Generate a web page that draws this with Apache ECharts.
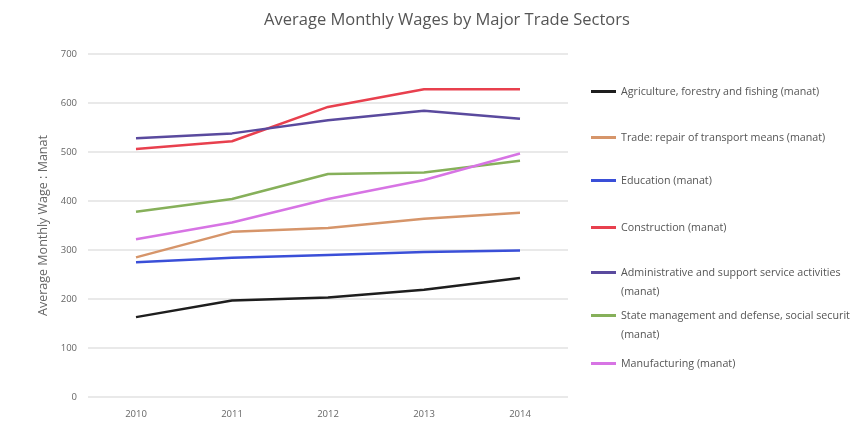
<!DOCTYPE html>
<html>
<head>
<meta charset="utf-8">
<script src="https://cdn.jsdelivr.net/npm/echarts@6/dist/echarts.min.js"></script>
<style>
  html, body { margin: 0; padding: 0; background: #fff; }
  #chart { width: 850px; height: 430px; }
</style>
</head>
<body>
<div id="chart"></div>
<script>
// Years on the category axis
const years = ['2010', '2011', '2012', '2013', '2014'];

// Average monthly wage per sector, manat
const agriculture   = [163, 197, 203, 219, 243];
const trade         = [285, 337, 345, 364, 376];
const education     = [275, 284, 290, 296, 299];
const construction  = [506, 522, 592, 628, 628];
const administrative = [528, 538, 565, 584, 568];
const stateMgmt     = [378, 404, 455, 458, 482];
const manufacturing = [322, 356, 404, 443, 497];

// Y axis ticks
const yTicks = [0, 100, 200, 300, 400, 500, 600, 700];

const seriesDefs = [
  { name: 'Agriculture, forestry and fishing (manat)', data: agriculture, color: '#1e1e1e', top: 82 },
  { name: 'Trade: repair of transport means (manat)', data: trade, color: '#d6956a', top: 128 },
  { name: 'Education (manat)', data: education, color: '#3a4fd8', top: 171 },
  { name: 'Construction (manat)', data: construction, color: '#e8404e', top: 218 },
  { name: 'Administrative and support service activities\n(manat)', data: administrative, color: '#5a4a9e', top: 244 },
  { name: 'State management and defense, social security\n(manat)', data: stateMgmt, color: '#86b05a', top: 287 },
  { name: 'Manufacturing (manat)', data: manufacturing, color: '#d774e4', top: 354 }
];

const chart = echarts.init(document.getElementById('chart'), null, { renderer: 'canvas' });

const fontFamily = '"Open Sans", "Noto Sans", sans-serif';

// one legend block per series so every entry sits on its own row;
// wrapped names get a blank leading line so the swatch lines up with the first line
const legends = seriesDefs.map(s => {
  const twoLines = s.name.indexOf('\n') >= 0;
  return {
    data: [s.name],
    left: 591,
    top: s.top,
    orient: 'vertical',
    icon: 'rect',
    itemWidth: 25,
    itemHeight: 3,
    itemGap: 0,
    selectedMode: false,
    padding: 0,
    formatter: twoLines ? (name => '\n' + name) : undefined,
    textStyle: {
      fontFamily: fontFamily,
      fontSize: 10.7,
      color: '#555',
      lineHeight: 19
    }
  };
});

chart.setOption({
  animation: false,
  backgroundColor: '#fff',
  title: {
    text: 'Average Monthly Wages by Major Trade Sectors',
    left: 442,
    textAlign: 'center',
    top: 7,
    textStyle: { fontFamily: fontFamily, fontSize: 16.5, fontWeight: 'normal', color: '#555' }
  },
  legend: legends,
  grid: { left: 88, right: 282, top: 54, bottom: 33, containLabel: false },
  xAxis: {
    type: 'category',
    data: years,
    boundaryGap: true,
    axisLine: { show: false },
    axisTick: { show: false },
    axisLabel: { fontFamily: fontFamily, fontSize: 9.5, color: '#666', margin: 12 }
  },
  yAxis: {
    type: 'value',
    min: yTicks[0],
    max: yTicks[yTicks.length - 1],
    interval: 100,
    name: 'Average Monthly Wage : Manat',
    nameLocation: 'middle',
    nameGap: 35,
    nameTextStyle: { fontFamily: fontFamily, fontSize: 12.5, color: '#666' },
    axisLine: { show: false },
    axisTick: { show: false },
    axisLabel: { fontFamily: fontFamily, fontSize: 9.5, color: '#666', margin: 11 },
    splitLine: { lineStyle: { color: '#e2e2e2', width: 1.5 } }
  },
  series: seriesDefs.map(s => ({
    name: s.name,
    type: 'line',
    data: s.data,
    showSymbol: false,
    symbol: 'none',
    lineStyle: { color: s.color, width: 2.5 },
    itemStyle: { color: s.color }
  }))
});
</script>
</body>
</html>
